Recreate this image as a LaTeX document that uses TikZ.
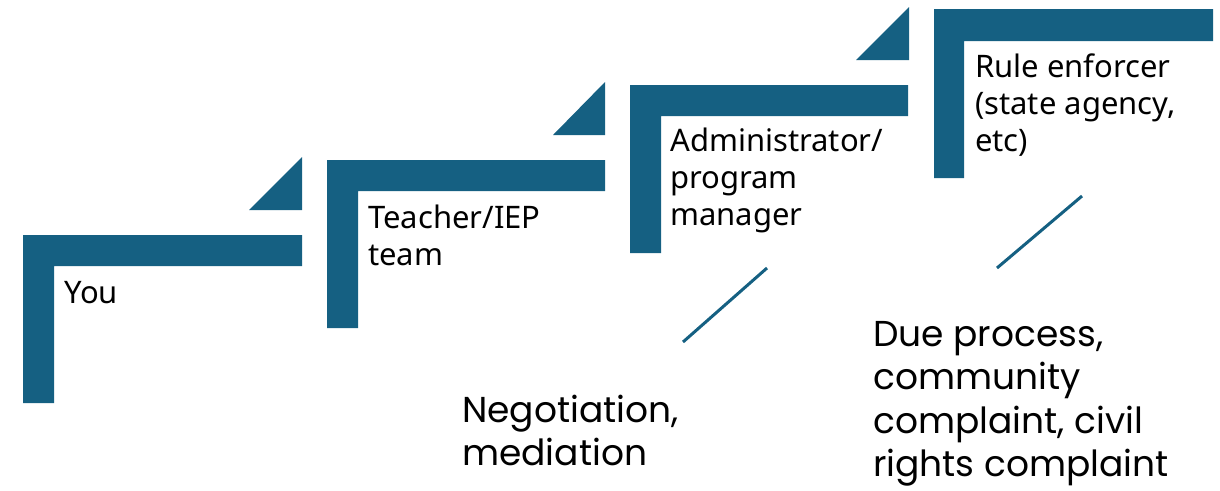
\documentclass[tikz,border=0pt]{standalone}
\usepackage{fontspec}
\setmainfont{Noto Sans}
\newfontfamily\poppins{Poppins}
\usetikzlibrary{positioning}
\definecolor{stepblue}{HTML}{156082}
\tikzset{
  stepfill/.style={fill=stepblue},
  % base of a multi-line label sits on its last line
  steplabel/.style={anchor=base west,align=left,inner sep=0pt,
    font=\fontsize{31}{37}\selectfont},
  routelabel/.style={anchor=base west,align=left,inner sep=0pt,
    font=\poppins\fontsize{36}{43.5}\selectfont},
  slash/.style={draw=stepblue,line width=3pt},
}

\begin{document}
\begin{tikzpicture}[x=1pt,y=-1pt]
  \useasboundingbox (0,0) rectangle (1220,490);
  % top left corners of the steps
  \coordinate (nyou)   at ( 23,235);
  \coordinate (nteach) at (327,160);
  \coordinate (nadmin) at (630, 85);
  \coordinate (nrule)  at (934,  9);
  % step 1
  \fill[stepfill] (nyou) -- ++(279,0) -- ++(0,31) -- ++(-248,0) -- ++(0,137) -- ++(-31,0) -- cycle;
  \fill[stepfill] (nyou) ++(226,-25) -- ++(53,0) -- ++(0,-53) -- cycle;
  \node[steplabel] at (nyou) [xshift=41pt,yshift=-68pt] (lyou) {You};
  % step 2
  \fill[stepfill] (nteach) -- ++(278,0) -- ++(0,31) -- ++(-247,0) -- ++(0,137) -- ++(-31,0) -- cycle;
  \fill[stepfill] (nteach) ++(226,-25) -- ++(52,0) -- ++(0,-53) -- cycle;
  \node[steplabel] at (nteach) [xshift=41pt,yshift=-105pt] (lteach) {Teacher/IEP\\team};
  % step 3
  \fill[stepfill] (nadmin) -- ++(278,0) -- ++(0,31) -- ++(-247,0) -- ++(0,137) -- ++(-31,0) -- cycle;
  \fill[stepfill] (nadmin) ++(226,-25) -- ++(53,0) -- ++(0,-53) -- cycle;
  \node[steplabel] at (nadmin) [xshift=40pt,yshift=-140pt] (ladmin) {Administrator/\\program\\manager};
  % step 4
  \fill[stepfill] (nrule) -- ++(279,0) -- ++(0,32) -- ++(-249,0) -- ++(0,137) -- ++(-30,0) -- cycle;
  \node[steplabel] at (nrule) [xshift=41pt,yshift=-142pt] (lrule) {Rule enforcer\\(state agency,\\etc)};
  % slashes to the routes
  \coordinate (nneg1) at (683,342);
  \coordinate (nneg2) at (767,268);
  \coordinate (ndue1) at (997,268);
  \coordinate (ndue2) at (1082,196);
  \draw[slash] (nneg1) -- (nneg2);
  \draw[slash] (ndue1) -- (ndue2);
  % routes
  \node[routelabel] at (462,465.5) (lneg) {Negotiation,\\mediation};
  \node[routelabel] at (873,476.5) (ldue) {Due process,\\community\\complaint, civil\\rights complaint};
\end{tikzpicture}
\end{document}
